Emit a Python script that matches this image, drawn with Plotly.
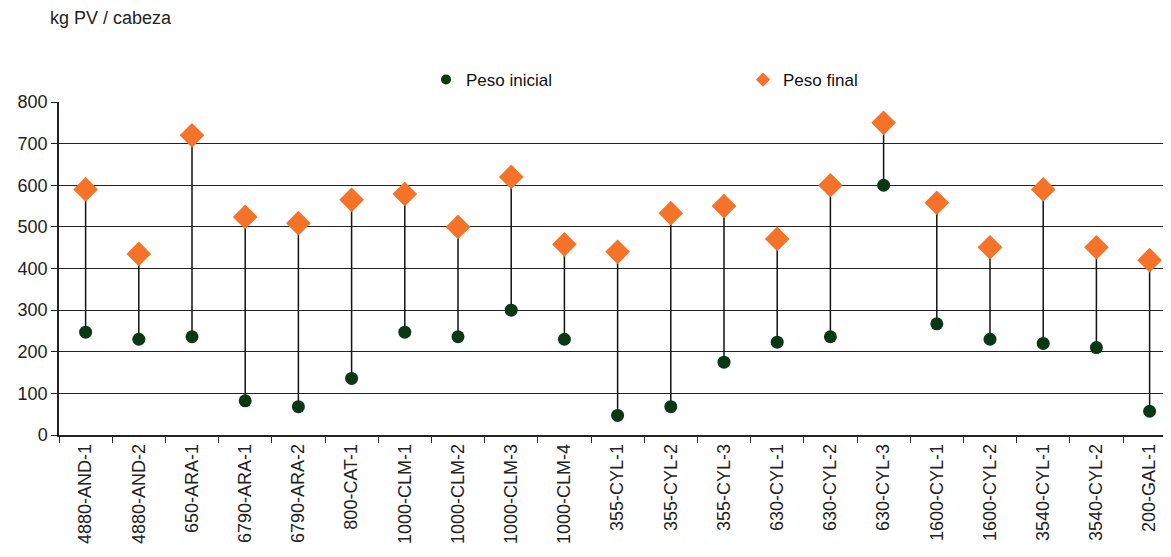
import plotly.graph_objects as go

categories = ["4880-AND-1", "4880-AND-2", "650-ARA-1", "6790-ARA-1", "6790-ARA-2",
              "800-CAT-1", "1000-CLM-1", "1000-CLM-2", "1000-CLM-3", "1000-CLM-4",
              "355-CYL-1", "355-CYL-2", "355-CYL-3", "630-CYL-1", "630-CYL-2",
              "630-CYL-3", "1600-CYL-1", "1600-CYL-2", "3540-CYL-1", "3540-CYL-2",
              "200-GAL-1"]
peso_inicial = [247, 230, 236, 82, 68, 136, 247, 236, 300, 230,
                47, 68, 175, 223, 236, 600, 267, 230, 220, 210, 57]
peso_final = [590, 435, 720, 524, 509, 565, 579, 500, 620, 458,
              440, 533, 550, 471, 600, 750, 558, 451, 590, 451, 420]
y_ticks = [0, 100, 200, 300, 400, 500, 600, 700, 800]

FONT = "Liberation Sans, Arial, sans-serif"
GREEN = "#0b3814"
ORANGE = "#f47328"

# connector lines built from the data
lx, ly = [], []
for c, a, b in zip(categories, peso_inicial, peso_final):
    lx += [c, c, None]
    ly += [a, b, None]

fig = go.Figure()
fig.add_trace(go.Scatter(x=lx, y=ly, mode="lines", line=dict(color="#111111", width=1.5),
                         showlegend=False, hoverinfo="skip"))
fig.add_trace(go.Scatter(x=categories, y=peso_inicial, mode="markers", name="Peso inicial",
                         showlegend=False, marker=dict(symbol="circle", size=13, color=GREEN)))
fig.add_trace(go.Scatter(x=categories, y=peso_final, mode="markers", name="Peso final",
                         showlegend=False, marker=dict(symbol="diamond", size=19, color=ORANGE)))
# legend-only entries with smaller symbols
fig.add_trace(go.Scatter(x=[None], y=[None], mode="markers", name="Peso inicial",
                         marker=dict(symbol="circle", size=10, color=GREEN)))
fig.add_trace(go.Scatter(x=[None], y=[None], mode="markers", name="Peso final",
                         marker=dict(symbol="diamond", size=11, color=ORANGE)))

OFF = 8  # page body margin
W, H = 1171, 557
L, T = 59 - OFF, 102 - OFF
plot_h = 435 - 102
B = H - T - plot_h
plot_w = W - L
step = 53.2
xr_max = -0.5 + plot_w / step

fig.update_layout(
    width=W, height=H,
    margin=dict(l=L, r=0, t=T, b=B, pad=0),
    paper_bgcolor="white", plot_bgcolor="white",
    font=dict(family=FONT, size=17, color="#222222"),
    showlegend=True,
    legend=dict(orientation="h", x=(426 - OFF - L) / plot_w, y=(435 - 80) / plot_h,
                xanchor="left", yanchor="middle", entrywidth=272, entrywidthmode="pixels",
                font=dict(size=17, family=FONT, color="#111111"), itemwidth=30,
                bgcolor="rgba(0,0,0,0)"),
    xaxis=dict(type="category", categoryorder="array", categoryarray=categories,
               range=[-0.5, xr_max], tickangle=-90, tickson="boundaries",
               ticks="outside", ticklen=6, tickcolor="#222222", showline=True,
               linecolor="#222222", linewidth=1.5, showgrid=False,
               tickfont=dict(size=18, family=FONT, color="#222222")),
    yaxis=dict(range=[0, 800], tickvals=y_ticks, ticks="outside", ticklen=6,
               tickcolor="#222222", showline=True, linecolor="#222222", linewidth=1.5,
               showgrid=True, gridcolor="#222222", gridwidth=1.3, zeroline=False,
               tickfont=dict(size=18, family=FONT, color="#222222")),
    annotations=[dict(text="kg PV / cabeza", xref="paper", yref="paper",
                      x=(48 - OFF - L) / plot_w, y=(435 - 18) / plot_h, xanchor="left",
                      yanchor="middle", showarrow=False,
                      font=dict(size=18, family=FONT, color="#222222"))],
)

fig.write_html("out.html")
